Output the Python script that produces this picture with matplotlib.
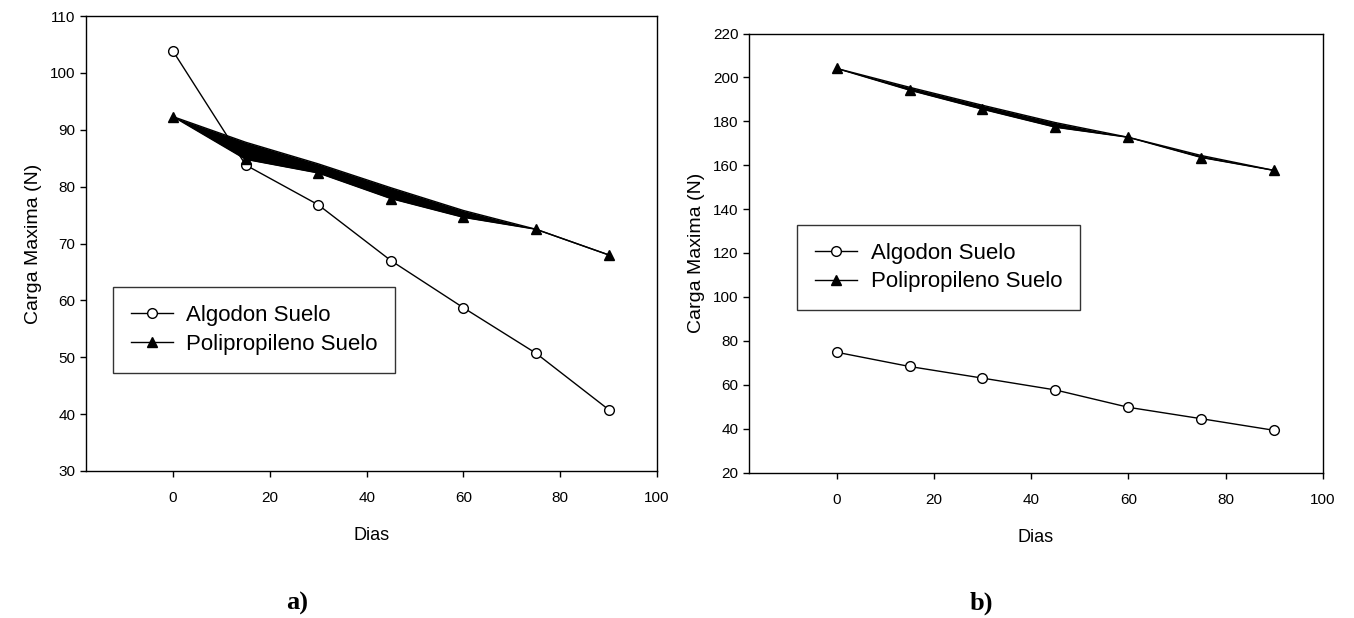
import matplotlib.pyplot as plt
import numpy as np

plt.rcParams['font.family'] = ['Liberation Sans', 'DejaVu Sans']

dias = [0, 15, 30, 45, 60, 75, 90]

# panel a
algodon_a = [103.8, 83.8, 76.8, 67.0, 58.7, 50.7, 40.8]
poli_a = [92.3, 84.8, 82.4, 77.9, 74.6, 72.5, 68.0]
poli_a_sup = [92.3, 87.8, 84.0, 79.8, 75.8, 72.5, 68.0]

# panel b
algodon_b = [74.8, 68.3, 63.0, 57.6, 49.7, 44.5, 39.2]
poli_b = [204.1, 194.2, 185.5, 177.3, 172.7, 163.5, 157.6]
poli_b_sup = [204.1, 195.5, 187.3, 179.4, 172.7, 164.4, 157.6]

W, H = 1354, 618
fig = plt.figure(figsize=(W/100, H/100), dpi=100)
ax1 = fig.add_axes([86/W, 1-471/H, 571/W, 455/H])
ax2 = fig.add_axes([749/W, 1-472.5/H, 574/W, 439/H])

def panel(ax, alg, pol, pol_sup, ylim, yticks, leg_pos):
    ax.fill_between(dias, pol, pol_sup, color='black', lw=0)
    ax.plot(dias, pol_sup, color='black', lw=1)
    ax.plot(dias, alg, color='black', lw=1, marker='o', ms=7,
            mfc='white', mec='black', mew=1, label='Algodon Suelo')
    ax.plot(dias, pol, color='black', lw=1, marker='^', ms=7,
            mfc='black', mec='black', label='Polipropileno Suelo')
    ax.set_xlim(-18, 100)
    ax.set_ylim(*ylim)
    ax.set_xticks([0, 20, 40, 60, 80, 100])
    ax.set_yticks(yticks)
    ax.tick_params(direction='out', length=4.5, width=1, labelsize=11,
                   top=False, right=False)
    ax.tick_params(axis='x', pad=10)
    ax.tick_params(axis='y', pad=3)
    ax.set_xlabel('Dias', fontsize=13, labelpad=16)
    ax.set_ylabel('Carga Maxima (N)', fontsize=14, labelpad=6)
    leg = ax.legend(loc='upper left', bbox_to_anchor=leg_pos, fontsize=16,
                    frameon=True, fancybox=False, edgecolor='black',
                    borderaxespad=0, handlelength=1.9, handletextpad=0.6,
                    borderpad=0.8, labelspacing=0.35)
    leg.get_frame().set_linewidth(1)
    for s in ax.spines.values():
        s.set_linewidth(1)

panel(ax1, algodon_a, poli_a, poli_a_sup, (30, 110), range(30, 111, 10),
      (0.047, 0.404))
panel(ax2, algodon_b, poli_b, poli_b_sup, (20, 220), range(20, 221, 20),
      (0.084, 0.564))

fig.text(297/W, 1-603/H, 'a)', ha='center', va='center', fontsize=19,
         fontweight='bold', family='Liberation Serif')
fig.text(981/W, 1-603/H, 'b)', ha='center', va='center', fontsize=19,
         fontweight='bold', family='Liberation Serif')

fig.savefig('out.png', dpi=100)
